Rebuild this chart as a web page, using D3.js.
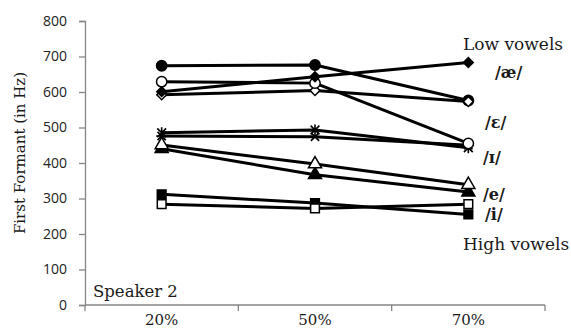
<!DOCTYPE html>
<html>
<head>
<meta charset="utf-8">
<script src="https://cdn.jsdelivr.net/npm/d3@7/dist/d3.min.js"></script>
<style>
  body { margin: 0; background: #fff; }
  text { fill: #1a1a1a; }
</style>
</head>
<body>
<svg id="chart" width="571" height="329"></svg>
<script>
// Categories along the x axis (position in the vowel)
const categories = ["20%", "50%", "70%"];
const yTicks = [0, 100, 200, 300, 400, 500, 600, 700, 800];

// First formant values (Hz), one array per marker series
const filledCircle   = [674, 676, 576];
const filledDiamond  = [601, 643, 683];
const openCircle     = [629, 625, 455];
const openDiamond    = [592, 604, 573];
const starSeries     = [485, 493, 443];
const crossSeries    = [476, 474, 450];
const openTriangle   = [451, 397, 339];
const filledTriangle = [440, 367, 318];
const filledSquare   = [312, 287, 255];
const openSquare     = [284, 272, 284];

// Labels on the right side, anchored to a Hz value
const vowelLabels = ["Low vowels", "/æ/", "/ɛ/", "/ɪ/", "/e/", "/i/", "High vowels"];
const vowelLabelHz = [718, 639, 499, 400, 296, 239, 155];

// series table: values + marker type (drawing order matters for overlaps)
const series = [
  { values: filledSquare, marker: "square", filled: true },
  { values: openSquare, marker: "square", filled: false },
  { values: filledTriangle, marker: "triangle", filled: true },
  { values: openTriangle, marker: "triangle", filled: false },
  { values: crossSeries, marker: "cross", filled: false },
  { values: starSeries, marker: "star", filled: false },
  { values: filledCircle, marker: "circle", filled: true },
  { values: openDiamond, marker: "diamond", filled: false },
  { values: openCircle, marker: "circle", filled: false },
  { values: filledDiamond, marker: "diamond", filled: true }
];

const svg = d3.select("#chart");
const margin = { left: 85, top: 21, right: 26, bottom: 24 };
const width = 571, height = 329;
const plotW = width - margin.left - margin.right;
const plotH = height - margin.top - margin.bottom;

const x = d3.scaleBand().domain(categories).range([0, plotW]).padding(0);
const y = d3.scaleLinear().domain([0, 800]).range([plotH, 0]);

const g = svg.append("g").attr("transform", `translate(${margin.left},${margin.top})`);

const axisColor = "#868686";
const serif = "'DejaVu Serif', serif";

// Y axis
const yAxis = g.append("g")
  .call(d3.axisLeft(y).tickValues(yTicks).tickSize(6).tickPadding(12));
yAxis.select(".domain").attr("stroke", axisColor).attr("stroke-width", 1.3);
yAxis.selectAll(".tick line").attr("stroke", axisColor).attr("stroke-width", 1.3);
yAxis.selectAll(".tick text")
  .attr("font-family", "'Open Sans', sans-serif")
  .attr("font-size", 14)
  .style("fill", "#222");

// X axis: line plus ticks between categories
const xAxis = g.append("g").attr("transform", `translate(0,${plotH})`);
xAxis.append("line")
  .attr("x1", 0).attr("x2", plotW)
  .attr("stroke", axisColor).attr("stroke-width", 1.3);
const boundaries = categories.map(c => x(c)).concat([plotW]);
xAxis.selectAll(".xtick").data(boundaries).join("line")
  .attr("class", "xtick")
  .attr("x1", d => d).attr("x2", d => d)
  .attr("y1", 0).attr("y2", 6)
  .attr("stroke", axisColor).attr("stroke-width", 1.3);
xAxis.selectAll(".xlabel").data(categories).join("text")
  .attr("class", "xlabel")
  .attr("x", d => x(d) + x.bandwidth() / 2)
  .attr("y", 19.5)
  .attr("text-anchor", "middle")
  .attr("font-family", serif)
  .attr("font-size", 15)
  .text(d => d);

// Y axis title
svg.append("text")
  .attr("transform", `translate(25,${margin.top + plotH / 2 - 10}) rotate(-90)`)
  .attr("text-anchor", "middle")
  .attr("font-family", serif)
  .attr("font-size", 15)
  .text("First Formant (in Hz)");

// Lines
const cx = c => x(c) + x.bandwidth() / 2;
const line = d3.line()
  .x((d, i) => cx(categories[i]))
  .y(d => y(d));

g.selectAll(".series-line").data(series).join("path")
  .attr("class", "series-line")
  .attr("d", d => line(d.values))
  .attr("fill", "none")
  .attr("stroke", "#000")
  .attr("stroke-width", 3)
  .attr("stroke-linejoin", "round");

// Markers
function markerPath(type) {
  if (type === "circle") return d3.symbol(d3.symbolCircle, 84)();
  if (type === "square") return d3.symbol(d3.symbolSquare, 76)();
  if (type === "triangle") return d3.symbol(d3.symbolTriangle, 74)();
  if (type === "diamond") return d3.symbol(d3.symbolSquare, 48)();
  const r = 5.5;
  if (type === "star") {
    // asterisk: vertical + two diagonals
    const a = r * 0.8;
    return `M0,${-r}L0,${r}M${-a},${-a}L${a},${a}M${-a},${a}L${a},${-a}`;
  }
  // cross: X with a short horizontal bar
  const a = r * 0.75;
  return `M${-a},${-a}L${a},${a}M${-a},${a}L${a},${-a}M${-r},0L${r},0`;
}

series.forEach(s => {
  g.selectAll(null).data(s.values).join("path")
    .attr("transform", (d, i) => {
      const rot = s.marker === "diamond" ? " rotate(45)" : "";
      return `translate(${cx(categories[i])},${y(d)})${rot}`;
    })
    .attr("d", markerPath(s.marker))
    .attr("fill", s.filled ? "#000" : "#fff")
    .attr("stroke", "#000")
    .attr("stroke-width", (s.marker === "star" || s.marker === "cross") ? 1.6 : 1.5);
});

// Vowel labels
const labelX = [463, 495, 485, 483, 483, 485, 463];
g.selectAll(".vowel").data(vowelLabels).join("text")
  .attr("class", "vowel")
  .attr("x", (d, i) => labelX[i] - margin.left)
  .attr("y", (d, i) => y(vowelLabelHz[i]))
  .attr("font-family", serif)
  .attr("font-size", (d, i) => (i === 0 || i === 6) ? 17 : 16)
  .attr("font-weight", (d, i) => (i === 0 || i === 6) ? "normal" : "bold")
  .text(d => d);

// Speaker tag
g.append("text")
  .attr("x", 8)
  .attr("y", y(23))
  .attr("font-family", serif)
  .attr("font-size", 16.5)
  .text("Speaker 2");
</script>
</body>
</html>
